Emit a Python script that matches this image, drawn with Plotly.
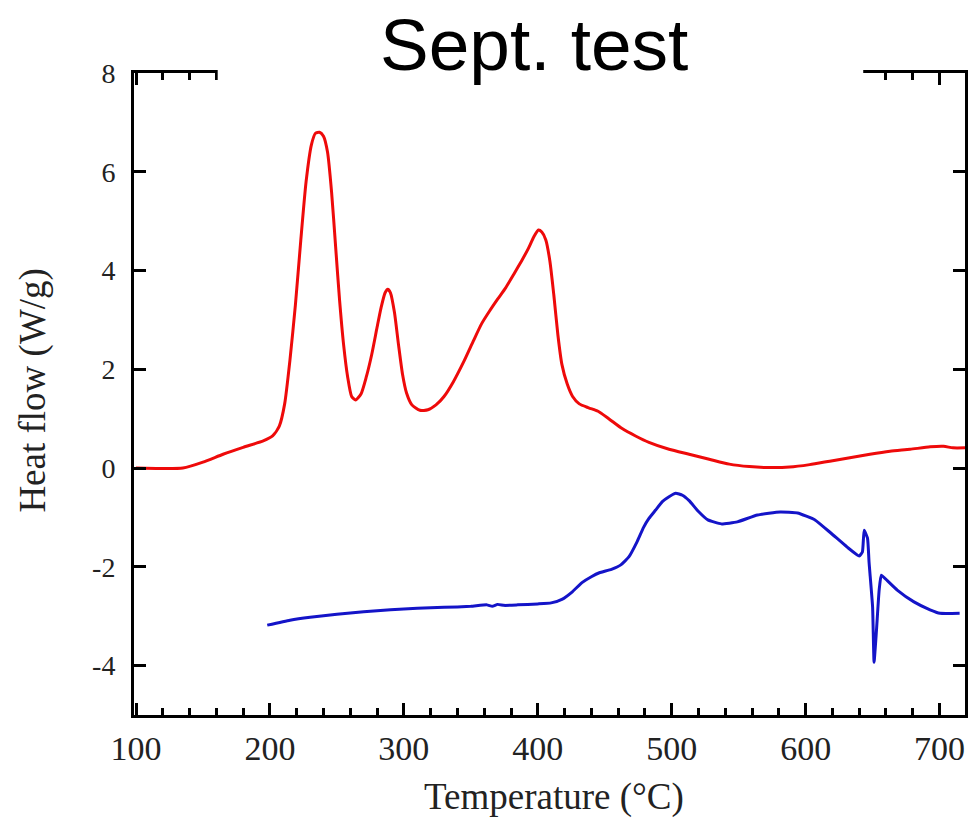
import plotly.graph_objects as go

# DSC heat-flow traces, temperature in °C, heat flow in W/g
red_temp = [100, 120, 135, 150, 165, 180, 195, 202, 207, 211, 215, 219, 223, 227, 231,
            234, 237, 240, 243, 246, 249, 252, 255, 258, 261, 264, 268, 272, 276, 280,
            283, 286, 288, 290, 293, 296, 299, 302, 306, 312, 318, 324, 330, 337, 345,
            352, 358, 364, 370, 376, 382, 388, 393, 397, 400.5, 403, 406, 409, 412, 415, 418,
            422, 426, 431, 438, 445, 453, 463, 473, 483, 498, 513, 528, 543, 558, 573,
            588, 603, 618, 633, 648, 663, 678, 693, 703, 710, 719]
red_flow = [0.00, -0.01, 0.00, 0.12, 0.28, 0.42, 0.55, 0.65, 0.85, 1.30, 2.20, 3.30, 4.60, 5.80, 6.55,
            6.78, 6.80, 6.72, 6.40, 5.60, 4.50, 3.40, 2.50, 1.85, 1.45, 1.38, 1.50, 1.85, 2.30, 2.85,
            3.25, 3.55, 3.62, 3.55, 3.15, 2.50, 1.90, 1.52, 1.28, 1.17, 1.18, 1.28, 1.45, 1.75, 2.17,
            2.58, 2.92, 3.18, 3.42, 3.65, 3.92, 4.20, 4.45, 4.68, 4.82, 4.78, 4.62, 4.20, 3.50, 2.70, 2.10,
            1.70, 1.45, 1.30, 1.22, 1.15, 1.00, 0.80, 0.65, 0.52, 0.38, 0.28, 0.18, 0.08, 0.03, 0.01,
            0.02, 0.07, 0.14, 0.21, 0.28, 0.34, 0.38, 0.43, 0.44, 0.41, 0.41]

blue_temp = [198, 215, 230, 250, 270, 290, 310, 330, 350, 362, 366, 370, 375, 385, 400,
             410, 418, 426, 433, 440, 446, 455, 462, 468, 474, 479, 483, 488, 493, 498,
             503, 508, 513, 520, 527, 537, 549, 564, 581, 594, 607, 619, 631, 640, 642.4,
             643.7, 646.2, 647.4, 650.0, 651.1, 652.9, 654.9, 656.5, 661, 668.4, 680.9, 692.9, 700.4, 715]
blue_flow = [-3.18, -3.08, -3.02, -2.96, -2.91, -2.87, -2.84, -2.82, -2.80, -2.77, -2.80, -2.76, -2.78, -2.77, -2.75,
             -2.73, -2.66, -2.50, -2.32, -2.20, -2.12, -2.05, -1.96, -1.80, -1.50, -1.20, -1.02, -0.85, -0.68, -0.58,
             -0.51, -0.55, -0.66, -0.88, -1.05, -1.13, -1.09, -0.95, -0.89, -0.91, -1.05, -1.32, -1.60, -1.78, -1.70,
             -1.26, -1.42, -1.92, -2.81, -3.93, -3.28, -2.47, -2.17, -2.28, -2.47, -2.71, -2.87, -2.94, -2.94]

x_ticks = [100, 200, 300, 400, 500, 600, 700]
y_ticks = [-4, -2, 0, 2, 4, 6, 8]

fig = go.Figure()
fig.add_trace(go.Scatter(x=red_temp, y=red_flow, mode="lines",
                         line=dict(color="#ee0a0a", width=3, shape="spline", smoothing=0.6),
                         showlegend=False))
fig.add_trace(go.Scatter(x=blue_temp, y=blue_flow, mode="lines",
                         line=dict(color="#1414c8", width=3, shape="spline", smoothing=0.4),
                         showlegend=False))

serif = "Liberation Serif, Times New Roman, serif"

fig.update_xaxes(
    range=[98.5, 719], tickvals=x_ticks, ticktext=[str(v) for v in x_ticks],
    showgrid=False, zeroline=False,
    showline=True, linecolor="black", linewidth=3, mirror="ticks",
    ticks="inside", ticklen=12, tickwidth=2.5, tickcolor="black",
    minor=dict(dtick=20, ticks="inside", ticklen=7, tickwidth=2.5, tickcolor="black", showgrid=False),
    tickfont=dict(family=serif, size=34, color="#222"),
    ticklabelstandoff=1,
)
fig.update_yaxes(
    range=[-5, 8], tickvals=y_ticks, ticktext=[str(v) for v in y_ticks],
    showgrid=False, zeroline=False,
    showline=True, linecolor="black", linewidth=3, mirror="ticks",
    ticks="inside", ticklen=12, tickwidth=2.5, tickcolor="black",
    tickfont=dict(family=serif, size=28, color="#222"),
    ticklabelstandoff=10,
)

# Open stretch of the top frame behind the title
fig.add_shape(type="rect", xref="x", yref="paper", x0=161, x1=643, y0=0.97, y1=1.04,
              fillcolor="white", line=dict(width=0), layer="above")

fig.add_annotation(text="Sept. test", xref="paper", yref="paper", x=0.481, y=1.111,
                   xanchor="center", yanchor="top", showarrow=False,
                   font=dict(family="Liberation Sans, Arial, sans-serif", size=73, color="black"))
fig.add_annotation(text="Temperature (°C)", xref="paper", yref="paper", x=0.505, y=-0.128,
                   xanchor="center", yanchor="middle", showarrow=False,
                   font=dict(family=serif, size=37, color="#222"))
fig.add_annotation(text="Heat flow (W/g)", xref="paper", yref="paper", x=-0.121, y=0.506,
                   xanchor="center", yanchor="middle", showarrow=False, textangle=-90,
                   font=dict(family=serif, size=37, color="#222"))

fig.update_layout(
    width=974, height=831,
    margin=dict(l=134, r=6, t=73, b=116),
    paper_bgcolor="white", plot_bgcolor="white",
)

fig.write_html("out.html")
